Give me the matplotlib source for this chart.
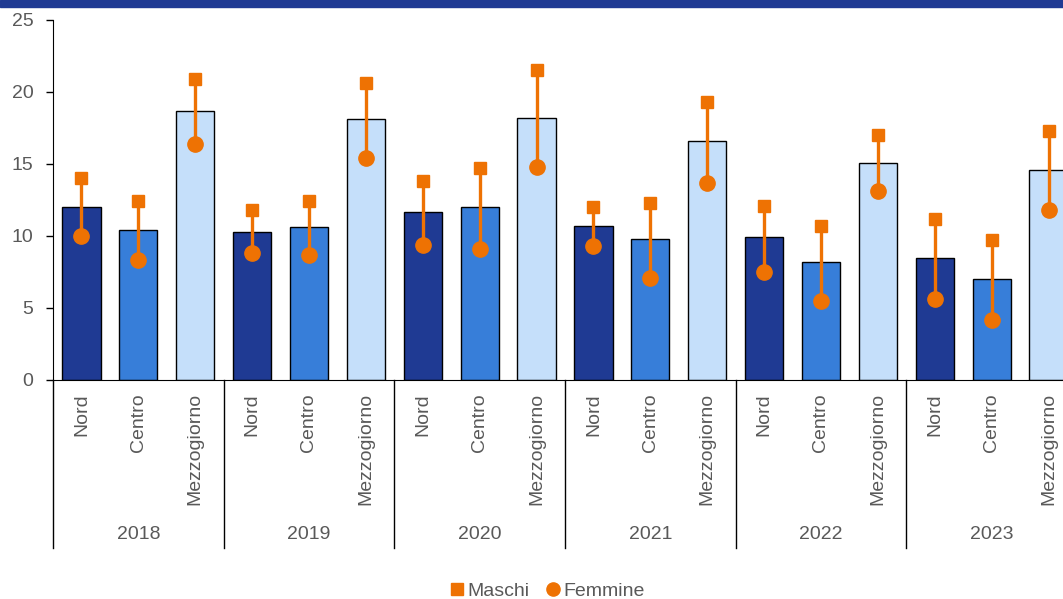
import numpy as np
import matplotlib
matplotlib.use('Agg')
from matplotlib import pyplot as plt
from matplotlib import transforms
from matplotlib.lines import Line2D

plt.rcParams['font.family'] = ['Liberation Sans', 'DejaVu Sans']

# -------- data --------
years = ['2018', '2019', '2020', '2021', '2022', '2023']
areas = ['Nord', 'Centro', 'Mezzogiorno']

totale = [12.0, 10.4, 18.7,
          10.3, 10.6, 18.1,
          11.7, 12.0, 18.2,
          10.7, 9.8, 16.6,
          9.9, 8.2, 15.1,
          8.5, 7.0, 14.6]
maschi = [14.0, 12.4, 20.9,
          11.8, 12.4, 20.6,
          13.8, 14.7, 21.5,
          12.0, 12.3, 19.3,
          12.1, 10.7, 17.0,
          11.2, 9.7, 17.3]
femmine = [10.0, 8.3, 16.4,
           8.8, 8.7, 15.4,
           9.4, 9.1, 14.8,
           9.3, 7.1, 13.7,
           7.5, 5.5, 13.1,
           5.6, 4.2, 11.8]

area_colors = ['#1f3a93', '#377ed9', '#c5dffa']
orange = '#ee7203'
text_grey = '#595959'

fig = plt.figure(figsize=(10.63, 5.99), dpi=100)
ax = fig.add_axes([53/1063, 219/599, 1024/1063, 360/599])

x = np.arange(len(totale))
colors = [area_colors[i % 3] for i in range(len(totale))]
ax.bar(x, totale, width=0.67, color=colors, edgecolor='black', linewidth=1.0, zorder=2)

# range lines femmine -> maschi
ax.vlines(x, femmine, maschi, color=orange, linewidth=2.4, zorder=3)
ax.plot(x, maschi, 's', color=orange, markersize=8.5, linestyle='none', zorder=4)
ax.plot(x, femmine, 'o', color=orange, markersize=11, linestyle='none', zorder=4)

ax.set_xlim(-0.5, len(totale) - 0.5)
ax.set_ylim(0, 25)
ax.set_yticks([0, 5, 10, 15, 20, 25])
ax.tick_params(axis='y', labelsize=14, labelcolor=text_grey, color='black',
               length=5, width=1, pad=9)
ax.set_xticks([])
for s in ['top', 'right']:
    ax.spines[s].set_visible(False)
ax.spines['left'].set_color('black')
ax.spines['bottom'].set_color('black')

# two-level category axis
trans = transforms.blended_transform_factory(ax.transData, ax.transAxes)
for i, xi in enumerate(x):
    ax.text(xi, -0.036, areas[i % 3], rotation=90, ha='center', va='top',
            fontsize=14, color=text_grey, transform=trans)
for g, yr in enumerate(years):
    ax.text(g * 3 + 1, -0.43, yr, ha='center', va='center', fontsize=14,
            color=text_grey, transform=trans)
for g in range(len(years) + 1):
    ax.plot([g * 3 - 0.5, g * 3 - 0.5], [0, -0.467], color='black', linewidth=1,
            transform=trans, clip_on=False)

# legend
handles = [Line2D([], [], marker='s', color=orange, linestyle='none', markersize=9),
           Line2D([], [], marker='o', color=orange, linestyle='none', markersize=9.5)]
fig.legend(handles, ['Maschi', 'Femmine'], loc='center', ncol=2, frameon=False,
           bbox_to_anchor=(547/1063, 1 - 591/599), fontsize=14, labelcolor=text_grey,
           handletextpad=0.15, columnspacing=0.8, handlelength=0.8)

# top band
fig.patches.append(plt.Rectangle((0, 1 - 7/599), 1, 7/599, transform=fig.transFigure,
                                 color='#1f3a93', zorder=0))

fig.savefig('out.png', dpi=100)
